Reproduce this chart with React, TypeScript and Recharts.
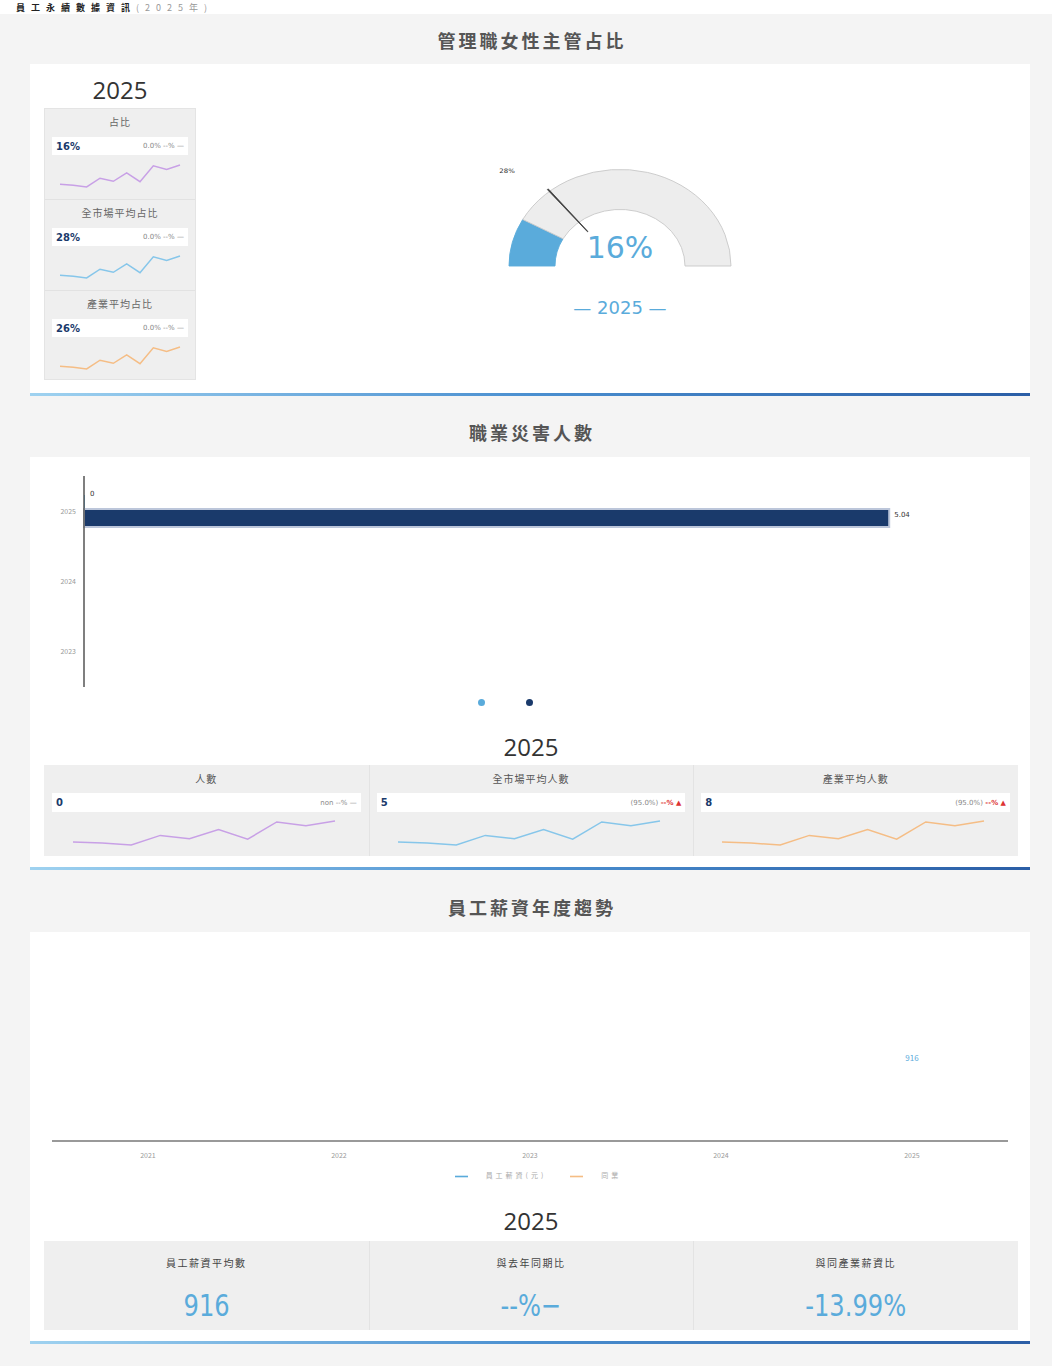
import React from 'react';
import { BarChart, Bar, XAxis, YAxis, Legend, LabelList, LineChart, Line, PieChart, Pie, Cell } from 'recharts';

// data
const ratioValue = 16; // 女性主管占比 %
const marketRatio = 28; // 全市場平均占比 %
const industryRatio = 26;
const gaugeRest = [ratioValue, 100 - ratioValue];
const markerSlice = [marketRatio, 0.35, 100 - marketRatio - 0.35];

const sparkTrend = [6, 4, 0, 20, 13, 32, 12, 48, 40, 50];

const injuryYears = ['2025', '2024', '2023'];
const injuryCount = [0, null, null];
const injuryMarketAvg = [5.04, null, null];

const salaryYears = ['2021', '2022', '2023', '2024', '2025'];
const salaryAvg = [null, null, null, null, 916];
const salaryIndustry = [null, null, null, null, null];

const CJK = "'Noto Sans CJK TC', 'Noto Sans', sans-serif";
const BLUE = '#5aabdb';
const NAVY = '#1a3a6b';
const PURPLE = '#c8a0e6';
const LBLUE = '#86c6ea';
const ORANGE = '#f5bd85';

const injuryData = injuryYears.map((y, i) => ({ year: y, count: injuryCount[i], avg: injuryMarketAvg[i] }));
const salaryData = salaryYears.map((y, i) => ({ year: y, salary: salaryAvg[i], industry: salaryIndustry[i] }));
const sparkData = sparkTrend.map((v, i) => ({ i, v }));

const abs = (left: number, top: number, width: number, height: number, extra: any = {}) => ({
  position: 'absolute' as const, left, top, width, height, ...extra,
});

function Spark({ color, width, height }: { color: string; width: number; height: number }) {
  return (
    <LineChart width={width} height={height} data={sparkData} margin={{ top: 2, right: 2, bottom: 2, left: 2 }}>
      <XAxis dataKey='i' hide />
      <YAxis hide domain={['dataMin', 'dataMax']} />
      <Line dataKey='v' stroke={color} strokeWidth={1.5} dot={false} isAnimationActive={false} />
    </LineChart>
  );
}

function SectionTitle({ text, y }: { text: string; y: number }) {
  return (
    <div style={abs(6, y - 12, 1052, 24, { textAlign: 'center', fontFamily: CJK, fontSize: 18, fontWeight: 700, color: '#555', letterSpacing: 3, lineHeight: '24px' })}>
      {text}
    </div>
  );
}

function YearHead({ x, y, w }: { x: number; y: number; w: number }) {
  return (
    <div style={abs(x, y - 15, w, 30, { textAlign: 'center', fontFamily: "'Open Sans', sans-serif", fontSize: 24, color: '#333', lineHeight: '30px' })}>
      2025
    </div>
  );
}

function BlueRule({ y }: { y: number }) {
  return <div style={abs(30, y, 1000, 3, { background: 'linear-gradient(to right, #9fd2f0, #4a8fd0 50%, #2b5ea6)' })} />;
}

function MiniRow({ value, note, red }: { value: string; note: string; red?: boolean }) {
  return (
    <div style={{ display: 'flex', alignItems: 'center', justifyContent: 'space-between', background: '#fff', height: '100%', padding: '0 4px', boxSizing: 'border-box' }}>
      <span style={{ fontFamily: "'DejaVu Sans', sans-serif", fontSize: 10, fontWeight: 700, color: NAVY }}>{value}</span>
      <span style={{ fontFamily: "'DejaVu Sans', sans-serif", fontSize: 7, color: '#888' }}>
        {note}
        {red ? <span style={{ color: '#d33', fontWeight: 700 }}> --% ▲</span> : <span> --% —</span>}
      </span>
    </div>
  );
}

const sideItems = [
  { title: '占比', value: `${ratioValue}%`, color: PURPLE },
  { title: '全市場平均占比', value: `${marketRatio}%`, color: LBLUE },
  { title: '產業平均占比', value: `${industryRatio}%`, color: ORANGE },
];

const injuryItems = [
  { title: '人數', value: '0', color: PURPLE, note: 'non', red: false },
  { title: '全市場平均人數', value: '5', color: LBLUE, note: '(95.0%)', red: true },
  { title: '產業平均人數', value: '8', color: ORANGE, note: '(95.0%)', red: true },
];

const salaryItems = [
  { title: '員工薪資平均數', value: '916' },
  { title: '與去年同期比', value: '--%−' },
  { title: '與同產業薪資比', value: '-13.99%' },
];

const RAD = Math.PI / 180;
const markerLabel = (p: any) => {
  if (p.index !== 1) return null;
  const r = p.outerRadius + 30;
  const x = p.cx + r * Math.cos(-p.midAngle * RAD) - 14;
  const y = p.cy + r * Math.sin(-p.midAngle * RAD) + 4;
  return (
    <text x={x} y={y} fontSize={7} fill='#333' textAnchor='end' fontFamily="'DejaVu Sans', sans-serif">
      {`${marketRatio}%`}
    </text>
  );
};

const barValueLabel = (dy: number) => (p: any) => {
  if (p.value == null) return null;
  return (
    <text x={p.x + p.width + 5} y={p.y + p.height / 2 + dy} fontSize={7} fill='#333' dominantBaseline='central' fontFamily="'DejaVu Sans', sans-serif">
      {p.value}
    </text>
  );
};

export default function App() {
  const colW = 974 / 3;
  return (
    <div style={abs(0, 0, 1052, 1366, { background: '#fff', overflow: 'hidden', fontFamily: CJK })}>
      <div style={abs(16, 2, 600, 12, { fontSize: 9, fontWeight: 700, color: '#222', letterSpacing: 6, lineHeight: '12px' })}>
        員工永續數據資訊<span style={{ color: '#999', fontWeight: 400 }}>(2025年)</span>
      </div>
      <div style={abs(0, 14, 1052, 1352, { background: '#f4f4f4' })} />

      {/* section 1 */}
      <SectionTitle text='管理職女性主管占比' y={40} />
      <div style={abs(30, 64, 1000, 329, { background: '#fff' })} />
      <BlueRule y={393} />
      <YearHead x={44} y={90} w={152} />
      <div style={abs(44, 108, 152, 272, { background: '#efefef', border: '1px solid #e4e4e4', boxSizing: 'border-box' })} />
      {sideItems.map((it, i) => {
        const top = 108 + i * 91;
        return (
          <React.Fragment key={it.title}>
            {i > 0 && <div style={abs(45, top, 150, 1, { background: '#e2e2e2' })} />}
            <div style={abs(44, top + 6, 152, 16, { textAlign: 'center', fontSize: 10, color: '#666', letterSpacing: 1, lineHeight: '16px' })}>{it.title}</div>
            <div style={abs(52, top + 29, 136, 18)}>
              <MiniRow value={it.value} note='0.0%' />
            </div>
            <div style={abs(58, top + 55, 124, 26)}>
              <Spark color={it.color} width={124} height={26} />
            </div>
          </React.Fragment>
        );
      })}

      <div style={abs(470, 130, 300, 200, { transform: 'scaleY(0.87)', transformOrigin: '150px 136px' })}>
        <PieChart width={300} height={200} margin={{ top: 0, right: 0, bottom: 0, left: 0 }}>
          <Pie data={gaugeRest.map((v) => ({ v }))} dataKey='v' cx={150} cy={136} startAngle={180} endAngle={0} innerRadius={65} outerRadius={111} isAnimationActive={false}>
            <Cell fill={BLUE} stroke={BLUE} />
            <Cell fill='#ededed' stroke='#c9c9c9' />
          </Pie>
          <Pie data={markerSlice.map((v) => ({ v }))} dataKey='v' cx={150} cy={136} startAngle={180} endAngle={0} innerRadius={51} outerRadius={114} isAnimationActive={false} label={markerLabel} labelLine={false}>
            <Cell fill='none' stroke='none' />
            <Cell fill='#333' stroke='#333' strokeWidth={0.8} />
            <Cell fill='none' stroke='none' />
          </Pie>
        </PieChart>
      </div>
      <div style={abs(520, 229, 200, 38, { textAlign: 'center', fontFamily: "'DejaVu Sans', sans-serif", fontSize: 30, color: BLUE, lineHeight: '38px' })}>
        {ratioValue}%
      </div>
      <div style={abs(520, 296, 200, 24, { textAlign: 'center', fontFamily: "'DejaVu Sans', sans-serif", fontSize: 18, color: BLUE, lineHeight: '24px' })}>
        — 2025 —
      </div>

      {/* section 2 */}
      <SectionTitle text='職業災害人數' y={432} />
      <div style={abs(30, 457, 1000, 410, { background: '#fff' })} />
      <BlueRule y={867} />
      <div style={abs(40, 466, 990, 250)}>
        <BarChart width={990} height={250} data={injuryData} layout='vertical' margin={{ top: 10, right: 20, bottom: 5, left: 0 }} barSize={18} barGap={-4}>
          <XAxis type='number' hide domain={[0, (max: number) => max * 1.15]} />
          <YAxis type='category' dataKey='year' width={44} axisLine={{ stroke: '#555', strokeWidth: 1.5 }} tickLine={false} tick={{ fontSize: 7, fill: '#999' }} />
          <Legend
            verticalAlign='bottom'
            height={24}
            content={() => (
              <div style={{ display: 'flex', justifyContent: 'center', gap: 41, paddingTop: 12, paddingRight: 40 }}>
                <span style={{ width: 7, height: 7, borderRadius: 4, background: BLUE, display: 'inline-block' }} />
                <span style={{ width: 7, height: 7, borderRadius: 4, background: NAVY, display: 'inline-block' }} />
              </div>
            )}
          />
          <Bar dataKey='count' name='人數' fill={BLUE} minPointSize={1} isAnimationActive={false}>
            <LabelList dataKey='count' content={barValueLabel(-10)} />
          </Bar>
          <Bar dataKey='avg' name='全市場平均人數' fill={NAVY} stroke='#bcc6da' strokeWidth={2} isAnimationActive={false}>
            <LabelList dataKey='avg' content={barValueLabel(-3)} />
          </Bar>
        </BarChart>
      </div>
      <YearHead x={44} y={747} w={974} />
      <div style={abs(44, 765, 974, 91, { background: '#efefef' })} />
      {injuryItems.map((it, i) => {
        const left = 44 + i * colW;
        return (
          <React.Fragment key={it.title}>
            {i > 0 && <div style={abs(left, 765, 1, 91, { background: '#e3e3e3' })} />}
            <div style={abs(left, 771, colW, 16, { textAlign: 'center', fontSize: 10, color: '#555', letterSpacing: 1, lineHeight: '16px' })}>{it.title}</div>
            <div style={abs(left + 8, 793, colW - 16, 19)}>
              <MiniRow value={it.value} note={it.note} red={it.red} />
            </div>
            <div style={abs(left + 27, 819, 266, 28)}>
              <Spark color={it.color} width={266} height={28} />
            </div>
          </React.Fragment>
        );
      })}

      {/* section 3 */}
      <SectionTitle text='員工薪資年度趨勢' y={907} />
      <div style={abs(30, 932, 1000, 409, { background: '#fff' })} />
      <BlueRule y={1341} />
      <div style={abs(40, 935, 980, 268)}>
        <LineChart width={980} height={268} data={salaryData} margin={{ top: 10, right: 12, bottom: 5, left: 12 }}>
          <XAxis dataKey='year' height={25} padding={{ left: 96, right: 96 }} axisLine={{ stroke: '#999', strokeWidth: 2 }} tickLine={false} tickMargin={6} tick={{ fontSize: 7, fill: '#999' }} />
          <YAxis hide domain={[0, 2400]} />
          <Legend
            verticalAlign='bottom'
            height={28}
            iconType='plainline'
            iconSize={13}
            itemSorter={(item: any) => (item.dataKey === 'salary' ? 0 : 1)}
            wrapperStyle={{ fontSize: 7, color: '#bbb', paddingTop: 4, paddingLeft: 20, letterSpacing: 3 }}
            formatter={(v: string) => <span style={{ color: '#aaa', margin: '0 14px 0 14px' }}>{v}</span>}
          />
          <Line dataKey='salary' name='員工薪資(元)' stroke={BLUE} strokeWidth={2} dot={false} isAnimationActive={false}>
            <LabelList dataKey='salary' position='top' fontSize={8} fill={BLUE} />
          </Line>
          <Line dataKey='industry' name='同業' stroke={ORANGE} strokeWidth={2} dot={false} isAnimationActive={false} />
        </LineChart>
      </div>
      <YearHead x={44} y={1221} w={974} />
      <div style={abs(44, 1241, 974, 89, { background: '#efefef' })} />
      {salaryItems.map((it, i) => {
        const left = 44 + i * colW;
        return (
          <React.Fragment key={it.title}>
            {i > 0 && <div style={abs(left, 1241, 1, 89, { background: '#e3e3e3' })} />}
            <div style={abs(left, 1255, colW, 16, { textAlign: 'center', fontSize: 10, color: '#444', letterSpacing: 1.5, lineHeight: '16px' })}>{it.title}</div>
            <div style={abs(left, 1286, colW, 38, { textAlign: 'center', lineHeight: '38px' })}>
              <span style={{ display: 'inline-block', transform: 'scaleX(0.78)', fontFamily: "'DejaVu Sans', sans-serif", fontSize: 31, color: BLUE }}>
                {it.value}
              </span>
            </div>
          </React.Fragment>
        );
      })}
    </div>
  );
}
